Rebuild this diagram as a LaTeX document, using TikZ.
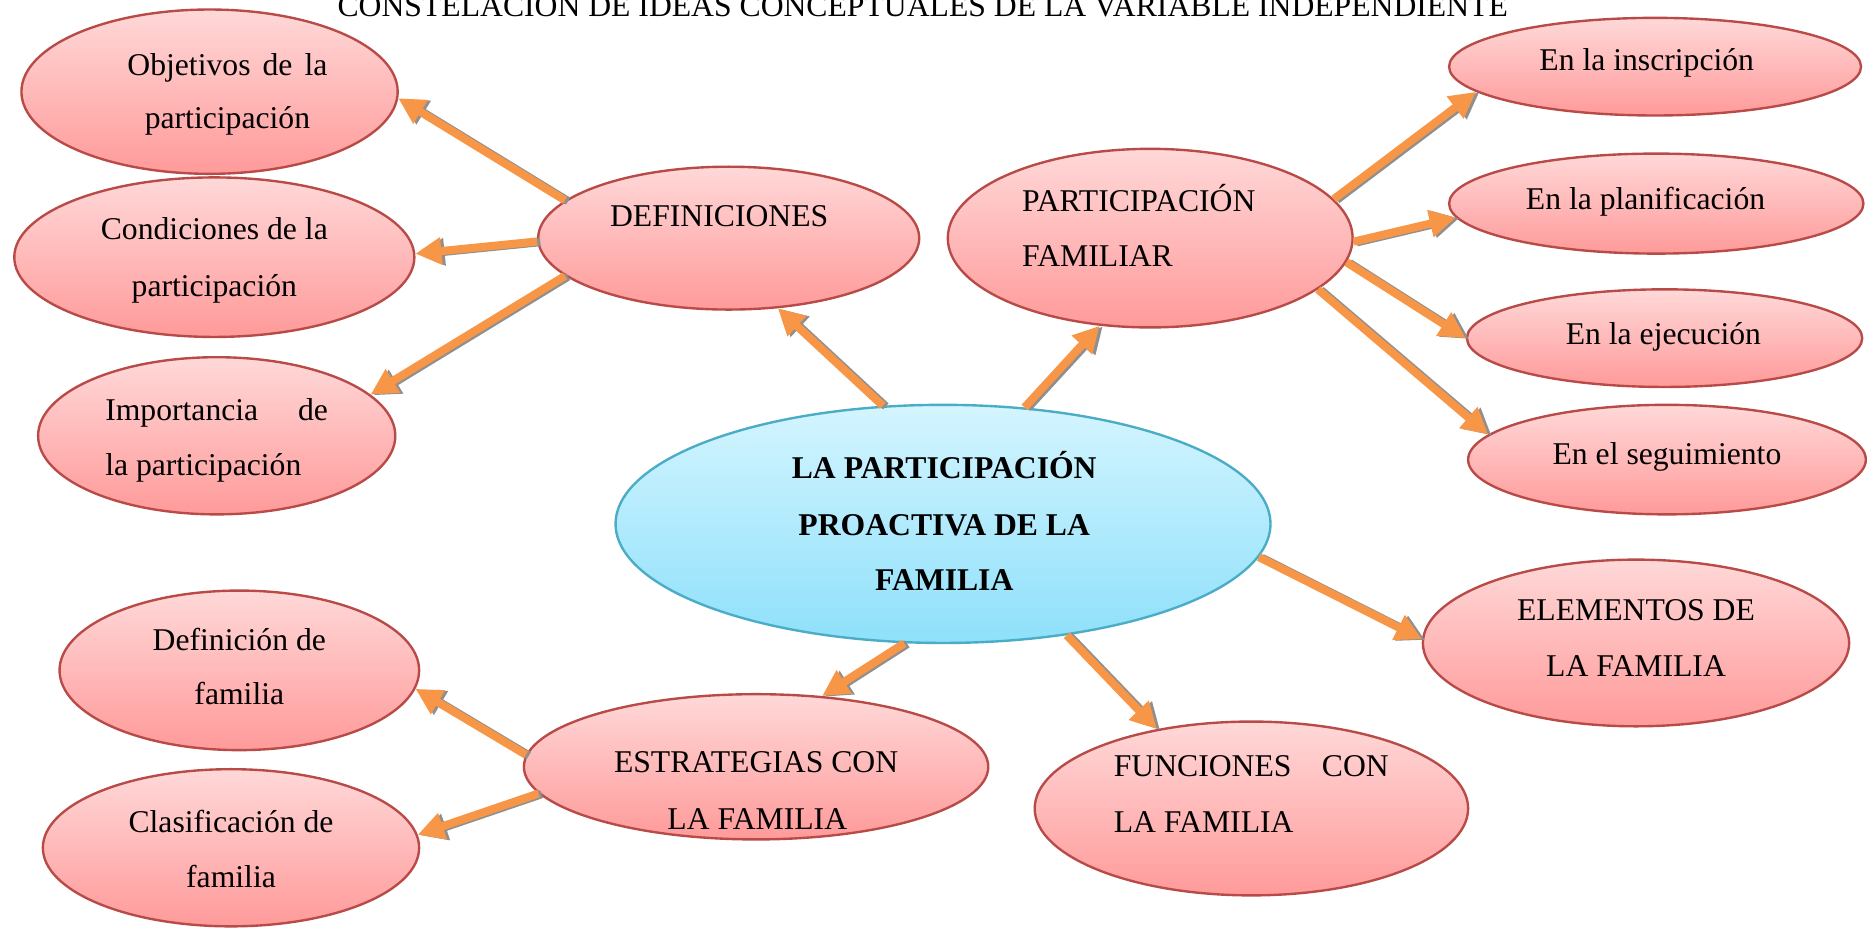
\documentclass[tikz,border=0pt]{standalone}
\usepackage{fontspec}
\setmainfont{Liberation Serif}
\usetikzlibrary{shapes.geometric,arrows.meta}
\definecolor{pinktop}{HTML}{FFD8D8}
\definecolor{pinkbot}{HTML}{FF9A9A}
\definecolor{redline}{HTML}{B84B47}
\definecolor{bluetop}{HTML}{D4F5FF}
\definecolor{bluebot}{HTML}{8EE0FA}
\definecolor{blueline}{HTML}{4BACC6}
\definecolor{arrorange}{HTML}{F79646}
\definecolor{shadowgray}{HTML}{8F8F8F}
\newcommand\mtxt{\fontsize{13.3pt}{16pt}\selectfont}
\tikzset{
  pinkell/.style={ellipse, draw=redline, line width=1pt, top color=pinktop, bottom color=pinkbot, inner sep=0pt},
  blueell/.style={ellipse, draw=blueline, line width=1pt, top color=bluetop, bottom color=bluebot, inner sep=0pt},
  lbl/.style={inner sep=0pt, font=\mtxt},
  arr/.style={draw=arrorange, line width=3.4pt, -{Triangle[length=11pt,width=11pt]}},
  arrsh/.style={draw=shadowgray, line width=3.4pt, -{Triangle[length=11pt,width=11pt]}, transform canvas={xshift=1.3pt,yshift=-0.3pt}}
}
\newcommand\conn[2]{%
  \draw[arrsh] (#1) -- (#2);
  \draw[arr] (#1) -- (#2);}
\begin{document}
\begin{tikzpicture}[x=0.5pt,y=-0.5pt]
\useasboundingbox (0,0) rectangle (1568,779.4);
% ellipses
\node[pinkell, minimum width=158pt, minimum height=69pt] (obj) at (176,77) {};
\node[pinkell, minimum width=168pt, minimum height=67pt] (cond) at (180,216) {};
\node[pinkell, minimum width=150pt, minimum height=66pt] (imp) at (182,366) {};
\node[pinkell, minimum width=160pt, minimum height=60pt] (def) at (612,200) {};
\node[pinkell, minimum width=170pt, minimum height=75pt] (part) at (966,200) {};
\node[pinkell, minimum width=173pt, minimum height=41pt] (insc) at (1390,56) {};
\node[pinkell, minimum width=174pt, minimum height=42pt] (plan) at (1391,171) {};
\node[pinkell, minimum width=166pt, minimum height=41pt] (ejec) at (1398,284) {};
\node[pinkell, minimum width=167pt, minimum height=46pt] (segu) at (1400,386) {};
\node[blueell, minimum width=275pt, minimum height=100pt] (cen) at (792,440) {};
\node[pinkell, minimum width=179pt, minimum height=70pt] (elem) at (1374,540) {};
\node[pinkell, minimum width=151pt, minimum height=67pt] (defi) at (201,563) {};
\node[pinkell, minimum width=158pt, minimum height=66pt] (clas) at (194,712) {};
\node[pinkell, minimum width=195pt, minimum height=61pt] (estr) at (635,644) {};
\node[pinkell, minimum width=182pt, minimum height=73pt] (func) at (1051,679) {};
% title
\node[lbl, anchor=base] (title) at (775,14) {CONSTELACIÓN DE IDEAS CONCEPTUALES DE LA VARIABLE INDEPENDIENTE};
% texts
\node[lbl, anchor=base] (obja) at (191,63) {\makebox[84pt][s]{Objetivos de la}};
\node[lbl, anchor=base] (objb) at (191,108) {participación};
\node[lbl, anchor=base] (conda) at (180,201) {Condiciones de la};
\node[lbl, anchor=base] (condb) at (180,249) {participación};
\node[lbl, anchor=base west] (impa) at (88,353) {\makebox[93.5pt][s]{Importancia de}};
\node[lbl, anchor=base west] (impb) at (88,399) {la participación};
\node[lbl, anchor=base west] (defa) at (512,190) {DEFINICIONES};
\node[lbl, anchor=base west] (parta) at (858,178) {PARTICIPACIÓN};
\node[lbl, anchor=base west] (partb) at (858,224) {FAMILIAR};
\node[lbl, anchor=base] (insca) at (1383,59) {En la inscripción};
\node[lbl, anchor=base] (plana) at (1382,176) {En la planificación};
\node[lbl, anchor=base] (ejeca) at (1397,289) {En la ejecución};
\node[lbl, anchor=base] (segua) at (1400,390) {En el seguimiento};
\node[lbl, anchor=base, font=\mtxt\bfseries] (cena) at (793,402) {LA PARTICIPACIÓN};
\node[lbl, anchor=base, font=\mtxt\bfseries] (cenb) at (793,450) {PROACTIVA DE LA};
\node[lbl, anchor=base, font=\mtxt\bfseries] (cenc) at (793,496) {FAMILIA};
\node[lbl, anchor=base] (elema) at (1374,521) {ELEMENTOS DE};
\node[lbl, anchor=base] (elemb) at (1374,568) {LA FAMILIA};
\node[lbl, anchor=base] (defia) at (201,546) {Definición de};
\node[lbl, anchor=base] (defib) at (201,592) {familia};
\node[lbl, anchor=base] (clasa) at (194,699) {Clasificación de};
\node[lbl, anchor=base] (clasb) at (194,745) {familia};
\node[lbl, anchor=base] (estra) at (635,649) {ESTRATEGIAS CON};
\node[lbl, anchor=base] (estrb) at (636,697) {LA FAMILIA};
\node[lbl, anchor=base west] (funca) at (935,652) {\makebox[115.5pt][s]{FUNCIONES CON}};
\node[lbl, anchor=base west] (funcb) at (935,699) {LA FAMILIA};
% connectors
\conn{def.167}{obj.-2}
\conn{def.181}{cond.1}
\conn{def.193}{imp.15}
\conn{cen.117}{def.-55}
\conn{cen.55}{part.240}
\conn{part.12}{insc.188}
\conn{part.-1}{plan.184}
\conn{part.-7}{ejec.180}
\conn{part.-17}{segu.172}
\conn{cen.-6}{elem.179}
\conn{cen.-42}{func.140}
\conn{cen.252}{estr.47}
\conn{estr.177}{defi.-6}
\conn{estr.187}{clas.4}
\end{tikzpicture}
\end{document}
